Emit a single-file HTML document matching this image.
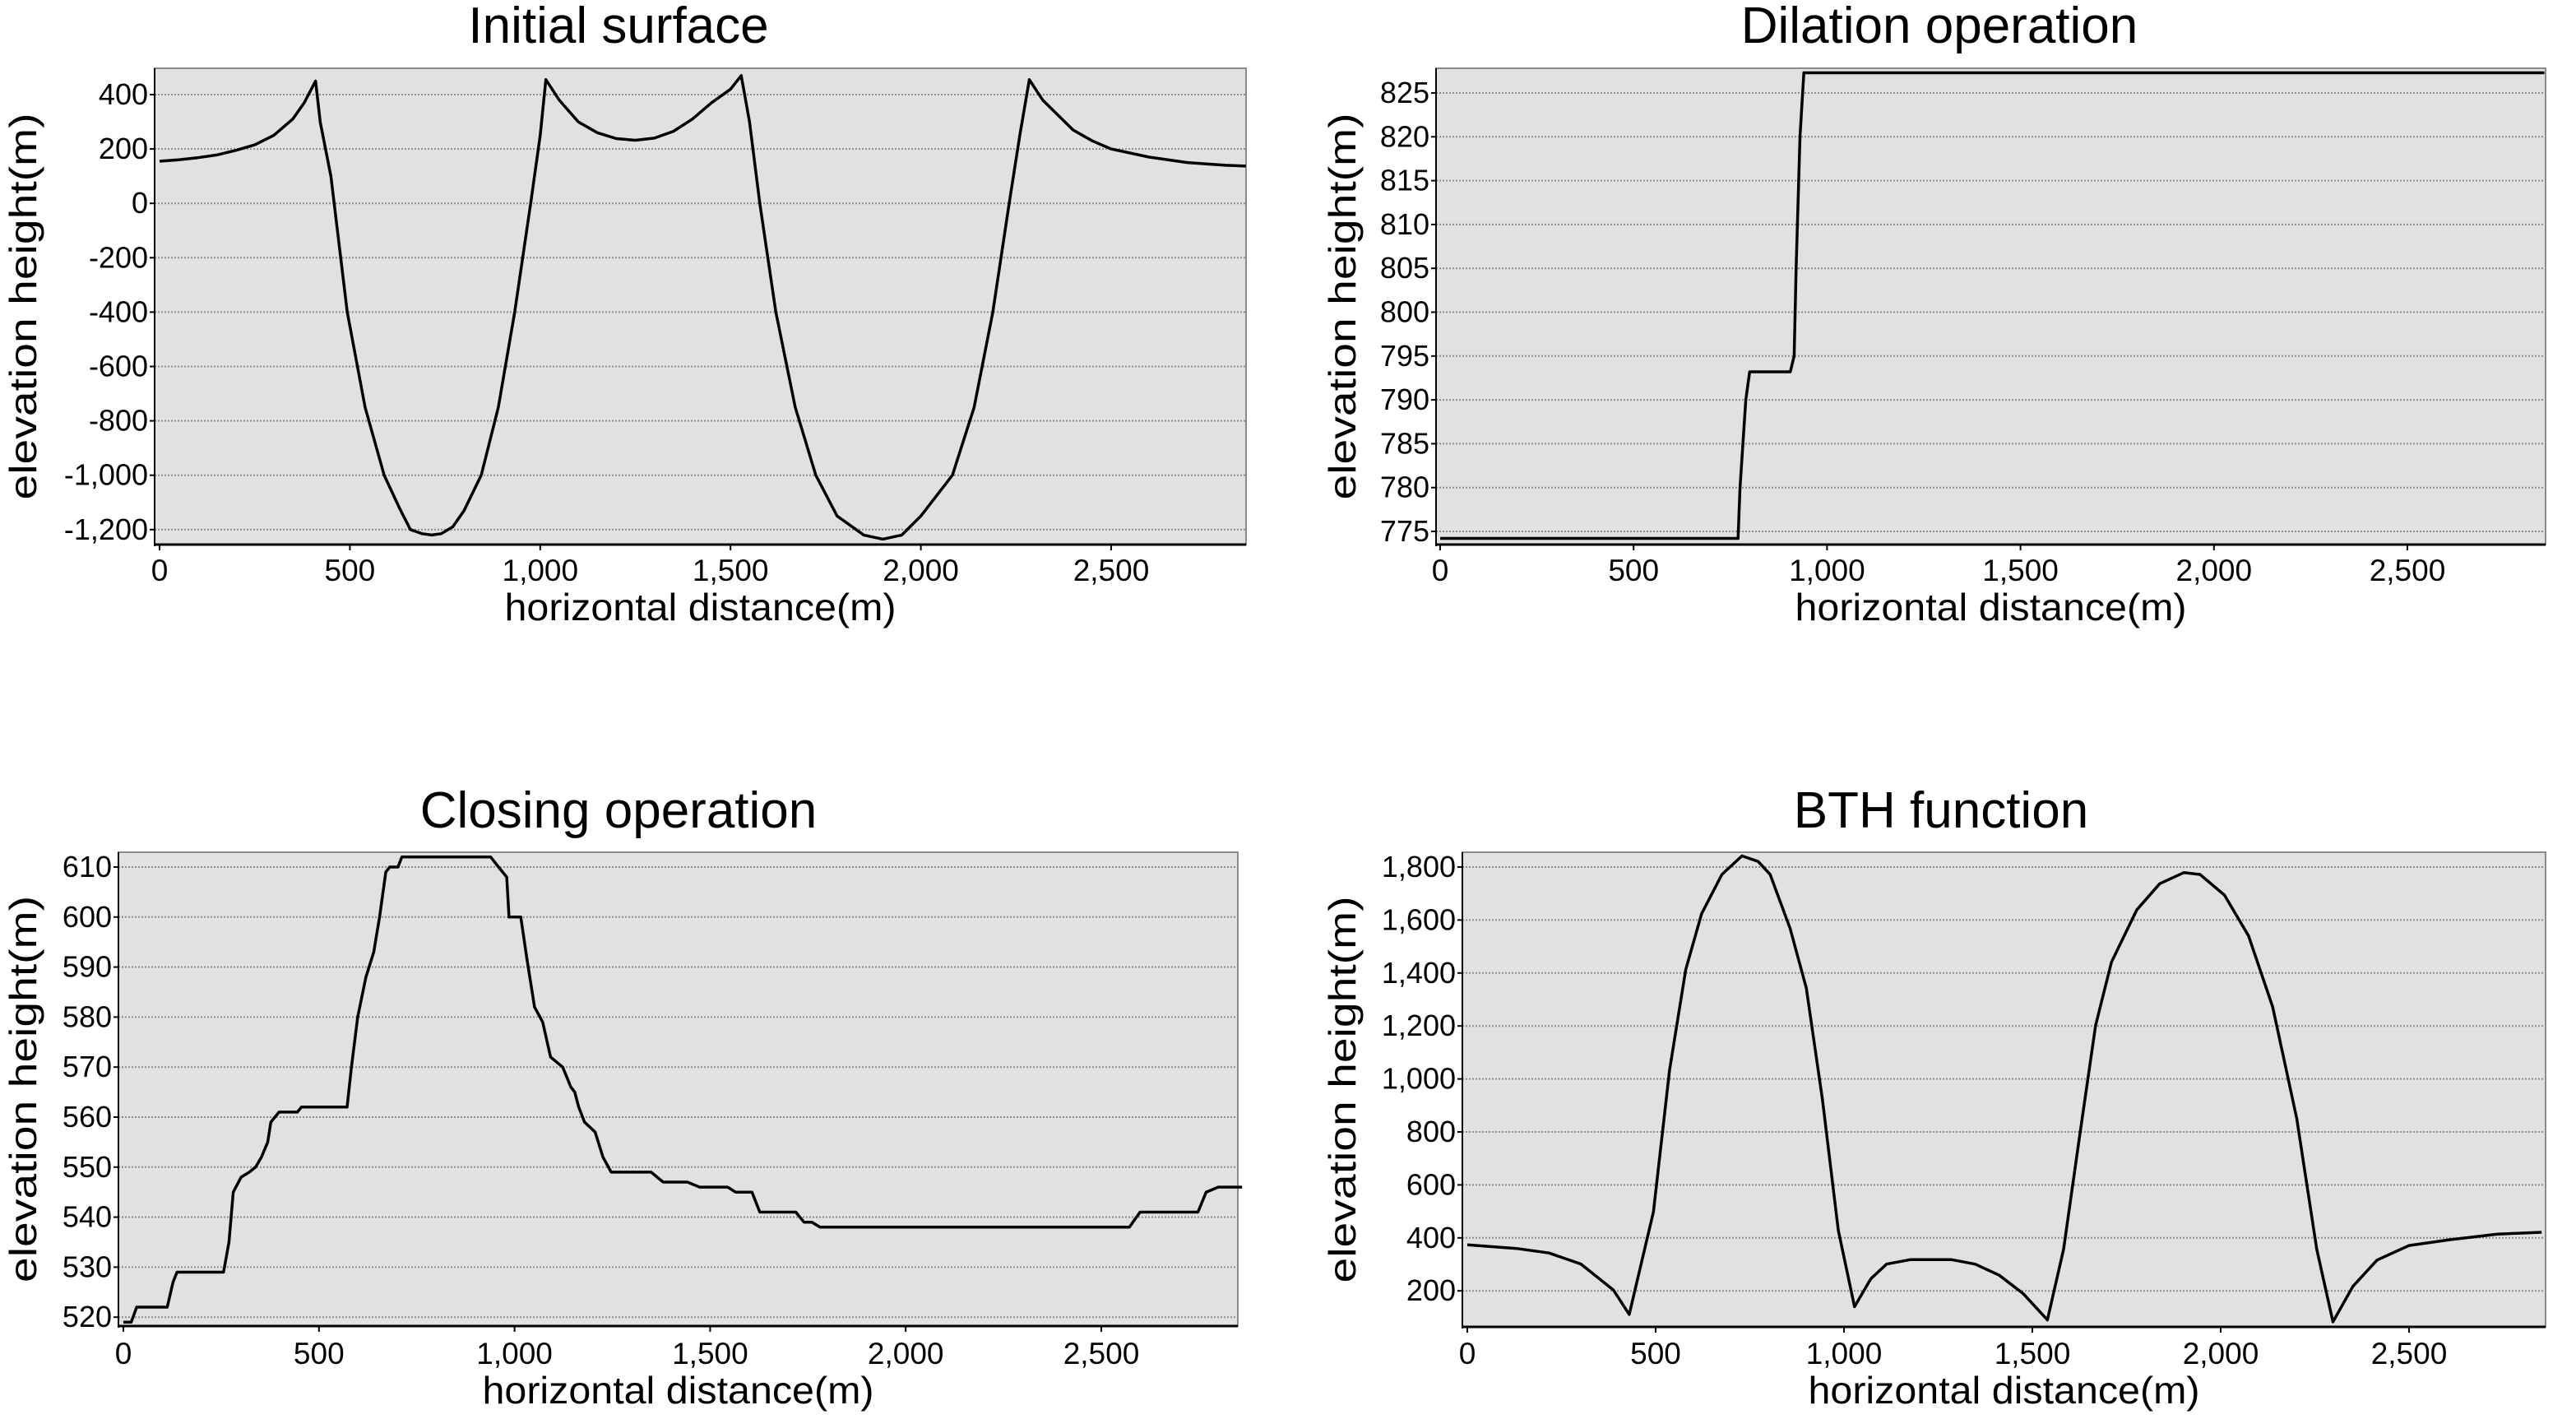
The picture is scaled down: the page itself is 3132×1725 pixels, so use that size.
<!DOCTYPE html>
<html><head><meta charset="utf-8"><style>
html,body{margin:0;padding:0;background:#fff;}
svg{display:block;font-family:"Liberation Sans",sans-serif;}
</style></head><body>
<svg id="fig" width="3132" height="1725" viewBox="0 0 3132 1725" xmlns="http://www.w3.org/2000/svg"></svg>
<script>
// ---- data ----
const initX = [0,50,100,150,200,250,300,350,380,410,422,450,493,540,590,630,659,690,715,740,770,800,845,890,933,975,1000,1015,1050,1100,1150,1200,1250,1300,1350,1400,1450,1500,1528,1550,1577,1619,1670,1724,1780,1850,1900,1950,2000,2083,2140,2189,2232,2260,2285,2320,2400,2450,2500,2600,2700,2800,2854];
const initY = [155,160,168,178,195,215,250,310,370,450,300,100,-400,-750,-1000,-1120,-1200,-1215,-1220,-1215,-1190,-1130,-1000,-750,-400,0,250,455,380,300,260,238,232,240,265,310,370,420,470,300,0,-400,-750,-1000,-1150,-1220,-1235,-1220,-1150,-1000,-750,-400,0,250,455,380,270,230,200,170,150,140,137];
const dilX = [0,770,775,790,800,905,915,920,930,940,2854];
const dilY = [774.2,774.2,780,790,793.2,793.2,795,805,820,827.3,827.3];
const cloX = [0,20,34,112,127,137,256,270,281,301,322,338,353,369,377,398,445,455,572,583,599,620,640,655,671,681,702,712,939,959,980,986,1016,1031,1051,1072,1092,1123,1144,1154,1164,1179,1206,1226,1247,1349,1380,1442,1473,1545,1565,1607,1627,1719,1740,1760,1781,2562,2572,2599,2644,2747,2768,2799,2860];
const cloY = [519,519,522,522,527,529,529,535,545,548,549,550,552,555,559,561,561,562,562,570,580,588,593,600,609,610,610,612,612,610,608,600,600,592,582,579,572,570,566,565,562,559,557,552,549,549,547,547,546,546,545,545,541,541,539,539,538,538,538,541,541,541,545,546,546];
const bthX = [0,131,217,302,388,430,494,537,580,622,676,729,772,804,857,900,943,985,1028,1071,1113,1177,1284,1348,1412,1476,1540,1583,1625,1668,1710,1777,1838,1902,1945,2010,2074,2138,2202,2255,2298,2351,2415,2500,2607,2735,2852];
const bthY = [374,360,343,301,203,111,498,1033,1413,1624,1772,1842,1821,1772,1568,1343,920,428,140,245,301,318,318,301,259,189,90,357,780,1202,1441,1638,1737,1779,1772,1694,1540,1272,850,357,83,217,316,371,393,414,421];
const xTicks = [0,500,1000,1500,2000,2500];
const xTickLabels = ["0","500","1,000","1,500","2,000","2,500"];
const initTicks = [400,200,0,-200,-400,-600,-800,-1000,-1200];
const initTickLabels = ["400","200","0","-200","-400","-600","-800","-1,000","-1,200"];
const dilTicks = [825,820,815,810,805,800,795,790,785,780,775];
const cloTicks = [610,600,590,580,570,560,550,540,530,520];
const bthTicks = [1800,1600,1400,1200,1000,800,600,400,200];
const bthTickLabels = ["1,800","1,600","1,400","1,200","1,000","800","600","400","200"];

const NS="http://www.w3.org/2000/svg";
const fig=document.getElementById('fig');
function mk(tag,attrs,parent){const e=document.createElementNS(NS,tag);for(const k in attrs)e.setAttribute(k,attrs[k]);(parent||fig).appendChild(e);return e;}

function panel(cfg){
  const g=mk('g',{});
  
  
  const L=cfg.L,R=cfg.R,T=cfg.T,B=cfg.B;
  const sx=v=>cfg.x0px+(v-0)*cfg.xpp;
  const sy=v=>cfg.yRefPx+(cfg.yRef-v)*cfg.ypp;
  const bg=mk('rect',{x:L,y:T,width:R-L,height:B-T,fill:'#e1e1e1',stroke:'#8a8a8a','stroke-width':2},g);
  
  
  cfg.yt.forEach((v,i)=>{
    const y=sy(v);
    const gl=mk('line',{x1:L,x2:R,y1:y,y2:y,stroke:'#8c8c8c','stroke-width':2,'stroke-dasharray':'2,2'},g);
    
    
    mk('line',{x1:L-6,x2:L,y1:y,y2:y,stroke:'#000','stroke-width':2},g);
    const t=mk('text',{x:L-8,y:y+12,'text-anchor':'end','font-size':36,fill:'#000'},g);
    t.textContent=cfg.ytl[i];
    
    
  });
  xTicks.forEach((v,i)=>{
    const x=sx(v);
    mk('line',{x1:x,x2:x,y1:B,y2:B+7,stroke:'#000','stroke-width':2},g);
    const t=mk('text',{x:x,y:cfg.xlabY,'text-anchor':'middle','font-size':37,fill:'#000'},g);
    t.textContent=xTickLabels[i];
    
    
  });
  mk('line',{x1:L,x2:L,y1:T,y2:B+2,stroke:'#000','stroke-width':2},g);
  mk('line',{x1:L,x2:R,y1:B,y2:B,stroke:'#000','stroke-width':3},g);
  const pts=cfg.xs.map((v,i)=>sx(v).toFixed(1)+','+sy(cfg.ys[i]).toFixed(1)).join(' ');
  const pl=mk('polyline',{points:pts,fill:'none',stroke:'#000','stroke-width':3.5,'stroke-linejoin':'round'},g);
  
  
  const ti=mk('text',{x:cfg.titleX,y:cfg.titleY,'text-anchor':'middle','font-size':62,fill:'#000'},g);
  ti.textContent=cfg.title;
  
  
  const xt=mk('text',{x:(L+R)/2+(cfg.xtOff||0),y:cfg.xtitleY,'text-anchor':'middle','font-size':46,fill:'#000',textLength:476,lengthAdjust:'spacingAndGlyphs'},g);
  xt.textContent='horizontal distance(m)';
  
  
  const cy=(T+B)/2;
  const yt=mk('text',{x:cfg.ytitleX,y:cy,'text-anchor':'middle','font-size':46,fill:'#000',textLength:470,lengthAdjust:'spacingAndGlyphs',transform:'rotate(-90 '+cfg.ytitleX+' '+cy+')'},g);
  yt.textContent='elevation height(m)';
  
  
}

panel({name:'initial-surface-chart',L:188,R:1515,T:83,B:662,x0px:194,xpp:231.4/500,yRef:400,yRefPx:115,ypp:66.1/200,
  yt:initTicks,ytl:initTickLabels,xs:initX,ys:initY,title:'Initial surface',titleX:752,titleY:52,xlabY:706,xtitleY:754,ytitleX:44});
panel({name:'dilation-chart',L:1746,R:3095,T:83,B:662,x0px:1751,xpp:235.2/500,yRef:825,yRefPx:113,ypp:53.3/5,
  yt:dilTicks,ytl:dilTicks.map(String),xs:dilX,ys:dilY,title:'Dilation operation',titleX:2358,titleY:52,xlabY:706,xtitleY:754,ytitleX:1648});
panel({name:'closing-chart',L:144,R:1505,T:1036,B:1612,x0px:150,xpp:237.8/500,yRef:610,yRefPx:1054,ypp:60.8/10,
  yt:cloTicks,ytl:cloTicks.map(String),xs:cloX,ys:cloY,title:'Closing operation',titleX:752,titleY:1006,xlabY:1658,xtitleY:1706,ytitleX:44});
panel({name:'bth-function-chart',L:1778,R:3095,T:1036,B:1613,x0px:1784,xpp:229/500,yRef:1800,yRefPx:1054,ypp:64.4/200,
  yt:bthTicks,ytl:bthTickLabels,xs:bthX,ys:bthY,title:'BTH function',titleX:2360,titleY:1006,xlabY:1658,xtitleY:1706,ytitleX:1648});
</script>
</body></html>
